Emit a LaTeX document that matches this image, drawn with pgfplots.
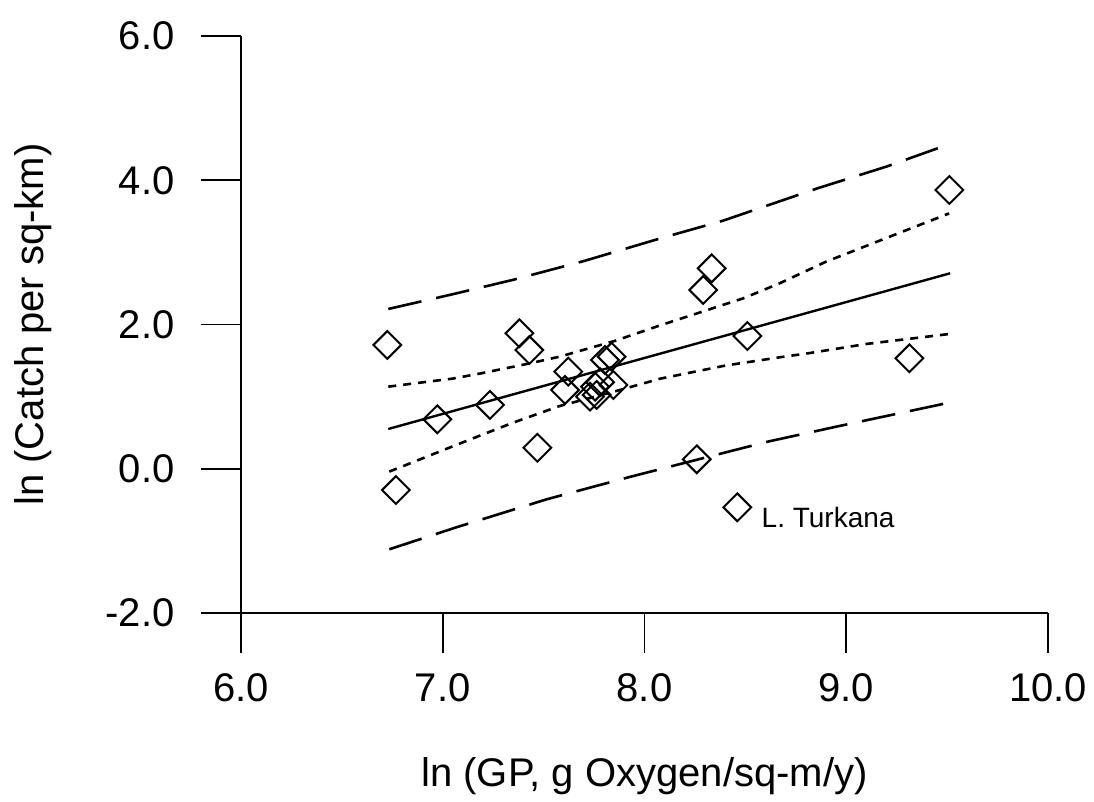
\documentclass[border=0pt]{standalone}
\usepackage{fontspec}
\setmainfont{Liberation Sans}
\usepackage{pgfplots}
\pgfplotsset{compat=1.18}
\begin{document}
\begin{tikzpicture}
\begin{axis}[
  scale only axis, width=403.5pt, height=288.5pt,
  xmin=6, xmax=10, ymin=-2, ymax=6,
  axis x line*=bottom, axis y line*=left,
  axis line style={line width=0.8pt, -},
  xtick={6,7,8,9,10}, xticklabels={6.0,7.0,8.0,9.0,10.0},
  ytick={-2,0,2,4,6}, yticklabels={-2.0,0.0,2.0,4.0,6.0},
  minor tick num=0,
  tick align=outside, major tick length=20pt,
  tick style={line width=0.8pt, black},
  ticklabel style={font=\fontsize{20}{24}\selectfont},
  yticklabel style={anchor=east, inner sep=0pt, xshift=-13pt},
  xticklabel style={anchor=north, inner sep=0pt, yshift=-10pt},
  xlabel={ln (GP, g Oxygen/sq-m/y)},
  ylabel={ln (Catch per sq-km)},
  every axis x label/.style={at={(axis description cs:0.5,-0.2825)}, anchor=center, font=\fontsize{20}{24}\selectfont},
  every axis y label/.style={at={(axis description cs:-0.2577,0.5)}, anchor=center, rotate=90, font=\fontsize{20}{24}\selectfont},
  clip=false,
]
% regression line
\addplot[black, line width=1.2pt] coordinates {(6.73,0.551) (9.515,2.71)};
% inner confidence band (short dashes)
\addplot[black, line width=1.3pt, dash pattern=on 4pt off 3.5pt] coordinates {
(6.73,1.138) (7.05,1.25) (7.185,1.32) (7.43,1.46) (7.58,1.554) (7.85,1.77) (8.08,1.99) (8.49,2.363) (8.67,2.571) (8.90,2.871) (9.30,3.31) (9.51,3.54)};
\addplot[black, line width=1.3pt, dash pattern=on 4pt off 3.5pt] coordinates {
(6.735,-0.04) (7.04,0.30) (7.185,0.46) (7.35,0.64) (7.58,0.87) (7.85,1.07) (8.08,1.25) (8.40,1.43) (8.67,1.545) (8.81,1.60) (9.10,1.73) (9.51,1.868)};
% outer prediction band (long dashes)
\addplot[black, line width=1.3pt, dash pattern=on 17pt off 7.5pt] coordinates {
(6.73,2.215) (7.05,2.42) (7.35,2.62) (7.70,2.88) (8.08,3.195) (8.39,3.44) (8.86,3.89) (9.20,4.19) (9.51,4.50)};
\addplot[black, line width=1.3pt, dash pattern=on 17pt off 7.5pt] coordinates {
(6.735,-1.117) (7.07,-0.81) (7.515,-0.424) (7.92,-0.119) (8.126,0.029) (8.61,0.375) (8.95,0.583) (9.51,0.916)};
% observations
\addplot[only marks, mark=square, mark size=4.9pt, mark options={rotate=45, black, line width=1pt, fill=none}] coordinates {
(6.725,1.716) (6.768,-0.295) (6.973,0.685) (7.234,0.884) (7.380,1.878) (7.429,1.646) (7.469,0.290)
(7.622,1.346) (7.606,1.092) (7.730,1.000) (7.755,1.138) (7.763,1.023) (7.780,1.200) (7.846,1.161)
(7.804,1.508) (7.837,1.554) (8.259,0.131) (8.291,2.478) (8.333,2.779) (8.460,-0.535) (8.510,1.840)
(9.313,1.531) (9.511,3.865)};
\node[anchor=west, inner sep=0pt, xshift=12pt, yshift=-5pt, font=\fontsize{14}{16}\selectfont] at (axis cs:8.46,-0.535) {L. Turkana};
\coordinate (SW) at (rel axis cs:0,0);
\coordinate (NE) at (rel axis cs:1,1);
\end{axis}
\path ([shift={(-120.5pt,-94pt)}]SW) rectangle ([shift={(23pt,18pt)}]NE);
\end{tikzpicture}
\end{document}
